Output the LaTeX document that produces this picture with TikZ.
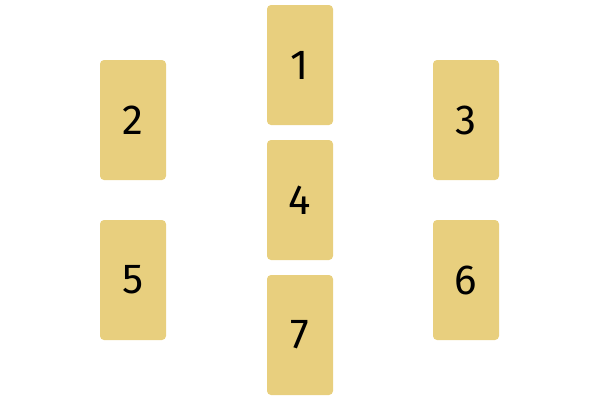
\documentclass[tikz,border=0pt]{standalone}
\usepackage{fontspec}
\setmainfont{Fira Sans}
\usepackage{tikz}
\usetikzlibrary{positioning}
\definecolor{cardgold}{HTML}{E8CF7E}
\tikzstyle{card} = [fill=cardgold, rounded corners=4pt, minimum width=66pt, minimum height=120pt, inner sep=0pt, font=\fontsize{42}{42}\selectfont]

\begin{document}
\begin{tikzpicture}[x=1pt,y=-1pt]
\useasboundingbox (0,0) rectangle (600,400);
%middle column
\node[card] (one) at (300,65) {1};
\node[card] (four) at (300,200) {4};
\node[card] (seven) at (300,335) {7};
%left and right
\node[card] (two) at (133,120) {2};
\node[card] (three) at (466,120) {3};
\node[card] (five) at (133,280) {5};
\node[card] (six) at (466,280) {6};
\end{tikzpicture}
\end{document}
